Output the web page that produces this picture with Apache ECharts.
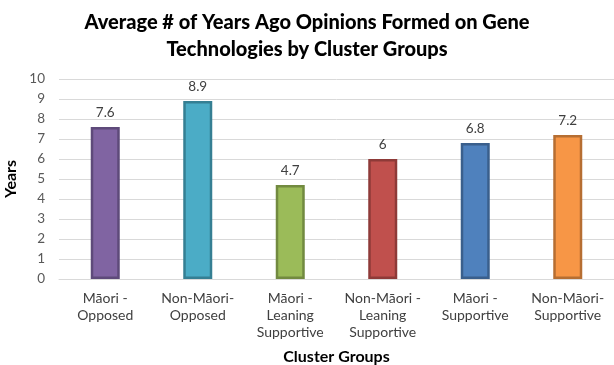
<!DOCTYPE html>
<html>
<head>
<meta charset="utf-8">
<script src="https://cdn.jsdelivr.net/npm/echarts@6/dist/echarts.min.js"></script>
<style>
  html, body { margin: 0; padding: 0; background: #fff; }
  #chart { width: 614px; height: 365px; }
</style>
</head>
<body>
<div id="chart"></div>
<script>
// Cluster groups and the average years since opinions were formed
const categories = [
  'Māori -\nOpposed',
  'Non-Māori-\nOpposed',
  'Māori -\nLeaning\nSupportive',
  'Non-Māori -\nLeaning\nSupportive',
  'Māori -\nSupportive',
  'Non-Māori-\nSupportive'
];
const years = [7.6, 8.9, 4.7, 6, 6.8, 7.2];
const fillColors = ['#8064A2', '#4BACC6', '#9BBB59', '#C0504D', '#4F81BD', '#F79646'];
const borderColors = ['#5E4A7A', '#357F93', '#728A40', '#8E3A38', '#3A5F8C', '#B66E32'];
const yTicks = [0, 1, 2, 3, 4, 5, 6, 7, 8, 9, 10];

const font = 'Lato, "Open Sans", sans-serif';
const chart = echarts.init(document.getElementById('chart'), null, { renderer: 'canvas' });

chart.setOption({
  animation: false,
  backgroundColor: '#fff',
  title: {
    text: 'Average # of Years Ago Opinions Formed on Gene\nTechnologies by Cluster Groups',
    left: 'center',
    top: 4,
    textStyle: { fontFamily: font, fontWeight: 900, fontSize: 20, lineHeight: 27, color: '#000' }
  },
  grid: { left: 59, right: 0, top: 79, bottom: 86, containLabel: false, outerBoundsMode: 'none' },
  xAxis: {
    type: 'category',
    data: categories,
    name: 'Cluster Groups',
    nameLocation: 'middle',
    nameGap: 70,
    nameTextStyle: { fontFamily: font, fontWeight: 'bold', fontSize: 16, color: '#000' },
    axisLine: { lineStyle: { color: '#D9D9D9', width: 1 } },
    axisTick: { show: false },
    axisLabel: {
      interval: 0, fontFamily: font, fontSize: 14, color: '#404040',
      lineHeight: 17, margin: 11
    }
  },
  yAxis: {
    type: 'value',
    min: yTicks[0],
    max: yTicks[yTicks.length - 1],
    interval: 1,
    name: 'Years',
    nameLocation: 'middle',
    nameGap: 34,
    nameTextStyle: { fontFamily: font, fontWeight: 'bold', fontSize: 16, color: '#000' },
    axisLine: { show: false },
    axisTick: { show: false },
    axisLabel: { fontFamily: font, fontSize: 13.5, color: '#595959', margin: 14 },
    splitLine: { lineStyle: { color: '#D9D9D9', width: 1 } }
  },
  series: [{
    type: 'bar',
    barWidth: 29,
    data: years.map((v, i) => ({
      value: v,
      itemStyle: { color: fillColors[i], borderColor: borderColors[i], borderWidth: 2.5 }
    })),
    label: {
      show: true,
      position: 'top',
      distance: 7,
      fontFamily: font,
      fontSize: 13.5,
      color: '#404040'
    }
  }]
});
</script>
</body>
</html>
